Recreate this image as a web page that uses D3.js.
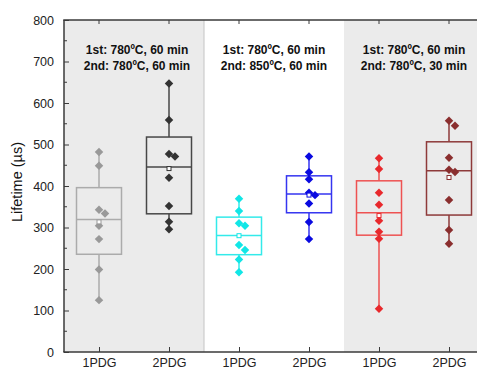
<!DOCTYPE html>
<html>
<head>
<meta charset="utf-8">
<script src="https://cdn.jsdelivr.net/npm/d3@7"></script>
<style>
  html, body { margin: 0; padding: 0; background: #fff; }
  svg { display: block; font-family: "Liberation Sans", Arial, sans-serif; }
</style>
</head>
<body>
<svg id="chart" width="477" height="367"></svg>
<script>
// Lifetime samples (µs) for each annealing condition
const categories = ["1PDG", "2PDG", "1PDG", "2PDG", "1PDG", "2PDG"];
const lifetimes = [
  [482, 449, 343, 334, 304, 272, 199, 125],
  [647, 559, 477, 471, 420, 352, 314, 296],
  [369, 340, 310, 304, 258, 246, 223, 192],
  [471, 433, 416, 384, 378, 358, 313, 272],
  [467, 441, 384, 355, 316, 290, 273, 104],
  [557, 545, 468, 439, 434, 366, 294, 261]
];
const pointColors = ["#999999", "#333333", "#11e6e6", "#0a0ae0", "#e8282c", "#8a2e2e"];
const boxColors   = ["#ababab", "#474747", "#33eaea", "#3535f0", "#ee5252", "#8e3a3a"];
const conditions = [
  ["1st: 780ºC, 60 min", "2nd: 780ºC, 60 min"],
  ["1st: 780ºC, 60 min", "2nd: 850ºC, 60 min"],
  ["1st: 780ºC, 60 min", "2nd: 780ºC, 30 min"]
];
const yTicks = [0, 100, 200, 300, 400, 500, 600, 700, 800];

const svg = d3.select("#chart");
const padL = 64, padT = 20, padB = 352, padR = 484;

const x = d3.scaleLinear().domain([0.5, categories.length + 0.5]).range([padL, padR]);
const y = d3.scaleLinear().domain([0, 800]).range([padB, padT]);
const boxW = 45;

svg.append("defs").append("clipPath").attr("id", "plotClip")
  .append("rect").attr("x", padL).attr("y", padT).attr("width", padR - padL).attr("height", padB - padT);

const plot = svg.append("g").attr("clip-path", "url(#plotClip)");

// Shaded panels behind the first and third condition pairs
[0, 2].forEach(p => {
  plot.append("rect")
    .attr("x", x(p * 2 + 0.5)).attr("y", padT)
    .attr("width", x(p * 2 + 2.5) - x(p * 2 + 0.5)).attr("height", padB - padT)
    .attr("fill", "#ebebeb");
});
plot.append("line")
  .attr("x1", x(2.5)).attr("x2", x(2.5)).attr("y1", padT).attr("y2", padB)
  .attr("stroke", "#c4c4c4").attr("stroke-width", 1);

// Tukey hinges
function stats(vals) {
  const s = vals.slice().sort(d3.ascending);
  const n = s.length, h = Math.floor(n / 2);
  const lower = s.slice(0, h), upper = s.slice(n - h);
  return {
    min: s[0], max: s[n - 1],
    q1: d3.median(lower), q3: d3.median(upper),
    med: d3.median(s), mean: d3.mean(s)
  };
}

// Spread overlapping points sideways so they stay visible
function dodge(vals) {
  const placed = [];
  return vals.map(v => {
    const py = y(v);
    const cands = [0, 3, -3, 6, -6, 9, -9];
    let off = 0;
    for (const c of cands) {
      if (!placed.some(p => Math.abs(p.y - py) < 6 && Math.abs(p.x - c) < 5)) { off = c; break; }
    }
    placed.push({ x: off, y: py });
    return off;
  });
}

const diamond = d3.symbol().type(d3.symbolSquare).size(36);
const cross = d3.symbol().type(d3.symbolX).size(22);

lifetimes.forEach((vals, i) => {
  const st = stats(vals);
  const cx = x(i + 1);
  const g = plot.append("g");
  const bc = boxColors[i], pc = pointColors[i];

  // whiskers
  g.append("line").attr("x1", cx).attr("x2", cx).attr("y1", y(st.q3)).attr("y2", y(st.max))
    .attr("stroke", bc).attr("stroke-width", 1.5);
  g.append("line").attr("x1", cx).attr("x2", cx).attr("y1", y(st.q1)).attr("y2", y(st.min))
    .attr("stroke", bc).attr("stroke-width", 1.5);
  // box
  g.append("rect").attr("x", cx - boxW / 2).attr("y", y(st.q3))
    .attr("width", boxW).attr("height", y(st.q1) - y(st.q3))
    .attr("fill", "none").attr("stroke", bc).attr("stroke-width", 1.5);
  g.append("line").attr("x1", cx - boxW / 2).attr("x2", cx + boxW / 2)
    .attr("y1", y(st.med)).attr("y2", y(st.med))
    .attr("stroke", bc).attr("stroke-width", 1.5);

  // min / max markers
  [st.min, st.max].forEach(v => {
    g.append("path").attr("d", cross)
      .attr("transform", `translate(${cx},${y(v)})`)
      .attr("fill", pc);
  });

  // data points
  const offs = dodge(vals);
  vals.forEach((v, j) => {
    g.append("path").attr("d", diamond)
      .attr("transform", `translate(${cx + offs[j]},${y(v)}) rotate(45)`)
      .attr("fill", pc);
  });

  // mean
  g.append("rect").attr("x", cx - 2).attr("y", y(st.mean) - 2)
    .attr("width", 4).attr("height", 4)
    .attr("fill", "#fff").attr("stroke", pc).attr("stroke-width", 1);
});

// Condition labels
conditions.forEach((lines, k) => {
  const t = svg.append("text")
    .attr("text-anchor", "middle")
    .attr("font-size", 12).attr("font-weight", "bold").attr("fill", "#111");
  lines.forEach((ln, m) => {
    t.append("tspan").attr("x", x(k * 2 + 1.5) + (k === 0 ? 3 : 0)).attr("y", 54 + m * 16).text(ln);
  });
});

// Axes
const axisColor = "#3a3a3a";
const yAxis = svg.append("g").attr("transform", `translate(${padL},0)`)
  .call(d3.axisLeft(y).tickValues(yTicks).tickSize(-5).tickPadding(10));
yAxis.select(".domain").remove();
yAxis.selectAll(".tick line").attr("stroke", axisColor).attr("stroke-width", 1);
yAxis.selectAll(".tick text").attr("font-size", 12.5).attr("fill", "#222")
  .attr("font-family", "Liberation Sans, Arial, sans-serif");
// minor ticks
svg.append("g").selectAll("line").data(d3.range(50, 800, 100)).join("line")
  .attr("x1", padL).attr("x2", padL + 3).attr("y1", d => y(d)).attr("y2", d => y(d))
  .attr("stroke", axisColor).attr("stroke-width", 1);

svg.append("line").attr("x1", padL).attr("x2", padL).attr("y1", padT).attr("y2", padB)
  .attr("stroke", axisColor).attr("stroke-width", 1.5);
svg.append("line").attr("x1", padL - 0.75).attr("x2", padR).attr("y1", padB).attr("y2", padB)
  .attr("stroke", axisColor).attr("stroke-width", 1.5);
svg.append("line").attr("x1", padL - 0.75).attr("x2", padR).attr("y1", padT).attr("y2", padT)
  .attr("stroke", axisColor).attr("stroke-width", 1.5);

const xAxis = svg.append("g").attr("transform", `translate(0,${padB})`)
  .call(d3.axisBottom(x).tickValues(d3.range(1, categories.length + 1))
    .tickFormat(d => categories[d - 1]).tickSize(-5).tickPadding(6));
xAxis.select(".domain").remove();
xAxis.selectAll(".tick line").attr("stroke", axisColor).attr("stroke-width", 1);
xAxis.selectAll(".tick text").attr("font-size", 12.5).attr("fill", "#222")
  .attr("font-family", "Liberation Sans, Arial, sans-serif");

svg.append("g").selectAll("line").data(d3.range(1, categories.length + 1)).join("line")
  .attr("x1", d => x(d)).attr("x2", d => x(d)).attr("y1", padT).attr("y2", padT + 4)
  .attr("stroke", axisColor).attr("stroke-width", 1);

// Y axis title
svg.append("text")
  .attr("transform", `translate(22,${(padT + padB) / 2 - 4}) rotate(-90)`)
  .attr("text-anchor", "middle")
  .attr("font-size", 14.5).attr("fill", "#111")
  .text("Lifetime (µs)");
</script>
</body>
</html>
